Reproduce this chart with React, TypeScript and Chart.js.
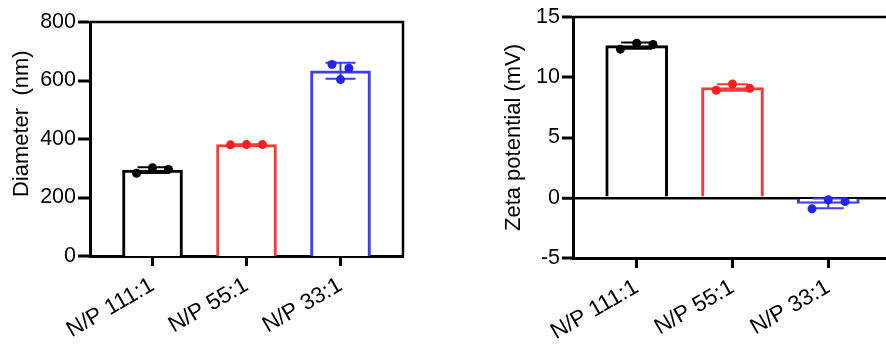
import React, { useEffect, useRef } from 'react';
import { Chart, registerables } from 'chart.js';

Chart.register(...registerables);

// ---------- data ----------
const categories = ['N/P 111:1', 'N/P 55:1', 'N/P 33:1'];

const diameterMeans = [293.7, 380.7, 633.3];
const diameterSD = [9.7, 1.0, 27.0];
const diameterDots = [
  [283, 302, 296],
  [380, 381, 381],
  [655, 642, 603],
];
const diameterJitter = [
  [-0.17, 0, 0.17],
  [-0.17, 0, 0.17],
  [-0.09, 0.09, 0],
];
const diameterTicks = [0, 200, 400, 600, 800];

const zetaMeans = [12.63, 9.15, -0.47];
const zetaSD = [0.26, 0.27, 0.4];
const zetaDots = [
  [12.33, 12.83, 12.72],
  [8.92, 9.44, 9.08],
  [-0.92, -0.17, -0.31],
];
const zetaJitter = [
  [-0.17, 0, 0.17],
  [-0.17, 0, 0.18],
  [-0.17, 0, 0.175],
];
const zetaTicks = [-5, 0, 5, 10, 15];

const barColors = ['#000000', '#f23c3c', '#3c3cf2'];
const dotColors = ['#000000', '#ff1f1f', '#2323f5'];

const FONT_FAMILY = "Arial, 'Liberation Sans', Helvetica, sans-serif";

type Spec = {
  means: number[];
  sds: number[];
  dots: number[][];
  jitter: number[][];
  ticks: number[];
  title: string;
  barThickness: number;
  capWidth: number;
  padding: { left: number; top: number; right: number; bottom: number };
  yWidth: number;
  xHeight: number;
  titlePad: number;
  zeroLine: boolean;
  yTickLength: number;
};

function makeConfig(s: Spec): any {
  const errorBars = {
    id: 'errorBars',
    afterDatasetDraw(chart: any, args: any) {
      if (args.meta.type !== 'bar') return;
      const { ctx } = chart;
      const x = chart.scales.x;
      const y = chart.scales.y;
      ctx.save();
      s.means.forEach((m, i) => {
        const px = x.getPixelForValue(i);
        const top = y.getPixelForValue(m + s.sds[i]);
        const bot = y.getPixelForValue(m - s.sds[i]);
        ctx.strokeStyle = barColors[i];
        ctx.lineWidth = 2;
        ctx.beginPath();
        ctx.moveTo(px, top);
        ctx.lineTo(px, bot);
        ctx.moveTo(px - s.capWidth / 2, top);
        ctx.lineTo(px + s.capWidth / 2, top);
        ctx.moveTo(px - s.capWidth / 2, bot);
        ctx.lineTo(px + s.capWidth / 2, bot);
        ctx.stroke();
      });
      ctx.restore();
    },
  };
  const frame = {
    id: 'frame',
    beforeDatasetsDraw(chart: any) {
      const { ctx, chartArea: a } = chart;
      ctx.save();
      ctx.strokeStyle = '#000';
      ctx.lineWidth = 2.5;
      ctx.beginPath();
      ctx.moveTo(a.left, a.top);
      ctx.lineTo(a.right, a.top);
      ctx.lineTo(a.right, a.bottom);
      ctx.stroke();
      ctx.restore();
    },
  };

  const dotData: any[] = [];
  const dotCols: string[] = [];
  s.dots.forEach((arr, i) =>
    arr.forEach((v, j) => {
      dotData.push({ x: i + s.jitter[i][j], y: v });
      dotCols.push(dotColors[i]);
    })
  );

  const tickFont = { family: FONT_FAMILY, size: 21.5 };

  return {
    type: 'bar',
    data: {
      datasets: [
        {
          type: 'scatter',
          order: 0,
          data: dotData,
          backgroundColor: dotCols,
          borderWidth: 0,
          pointRadius: 4.5,
          pointHoverRadius: 4.5,
        },
        {
          type: 'bar',
          order: 1,
          data: s.means.map((m, i) => ({ x: i, y: m })),
          backgroundColor: '#ffffff',
          borderColor: barColors,
          borderWidth: 3,
          barThickness: s.barThickness,
        },
      ],
    },
    options: {
      responsive: false,
      animation: false,
      events: [],
      layout: { padding: s.padding },
      plugins: { legend: { display: false }, tooltip: { enabled: false } },
      scales: {
        x: {
          type: 'linear',
          offset: false,
          min: -0.665,
          max: 2.665,
          afterBuildTicks: (sc: any) => {
            sc.ticks = categories.map((_, i) => ({ value: i }));
          },
          afterFit: (sc: any) => {
            sc.height = s.xHeight;
          },
          ticks: {
            callback: (v: any) => categories[v] ?? '',
            autoSkip: false,
            minRotation: 30,
            maxRotation: 30,
            font: { family: FONT_FAMILY, size: 22.5 },
            color: '#000',
            padding: 6,
          },
          grid: {
            offset: false,
            drawOnChartArea: false,
            drawTicks: true,
            tickLength: 10,
            tickWidth: 3,
            tickColor: '#000',
          },
          border: { display: true, color: '#000', width: 3 },
        },
        y: {
          type: 'linear',
          min: s.ticks[0],
          max: s.ticks[s.ticks.length - 1],
          afterBuildTicks: (sc: any) => {
            sc.ticks = s.ticks.map((v) => ({ value: v }));
          },
          afterFit: (sc: any) => {
            sc.width = s.yWidth;
          },
          ticks: { font: tickFont, color: '#000', padding: 2 },
          grid: {
            drawOnChartArea: s.zeroLine,
            color: (c: any) => (c.tick && c.tick.value === 0 ? '#000' : 'rgba(0,0,0,0)'),
            lineWidth: (c: any) => (s.zeroLine && c.tick && c.tick.value === 0 ? 2.5 : 0),
            drawTicks: true,
            tickLength: s.yTickLength,
            tickWidth: 3,
            tickColor: '#000',
          },
          border: { display: true, color: '#000', width: 3 },
          title: {
            display: true,
            text: s.title,
            color: '#000',
            font: { family: FONT_FAMILY, size: 22 },
            padding: { top: s.titlePad, bottom: 0 },
          },
        },
      },
    },
    plugins: [errorBars, frame],
  };
}

function BarChart({ spec, width, height, left }: { spec: Spec; width: number; height: number; left: number }) {
  const ref = useRef<HTMLCanvasElement>(null);
  useEffect(() => {
    const chart = new Chart(ref.current as HTMLCanvasElement, makeConfig(spec));
    return () => chart.destroy();
  }, []);
  return (
    <canvas
      ref={ref}
      width={width}
      height={height}
      style={{ position: 'absolute', left, top: 0, width, height, display: 'block' }}
    />
  );
}

const leftSpec: Spec = {
  means: diameterMeans,
  sds: diameterSD,
  dots: diameterDots,
  jitter: diameterJitter,
  ticks: diameterTicks,
  title: '     Diameter  (nm)',
  barThickness: 60,
  capWidth: 30,
  padding: { left: 0, top: 22, right: 67, bottom: 0 },
  yWidth: 90,
  xHeight: 91,
  titlePad: 8.8,
  zeroLine: false,
  yTickLength: 12,
};

const rightSpec: Spec = {
  means: zetaMeans,
  sds: zetaSD,
  dots: zetaDots,
  jitter: zetaJitter,
  ticks: zetaTicks,
  title: 'Zeta potential (mV)',
  barThickness: 62,
  capWidth: 31,
  padding: { left: 0, top: 17, right: 18, bottom: 0 },
  yWidth: 103,
  xHeight: 89,
  titlePad: 30.8,
  zeroLine: true,
  yTickLength: 11,
};

export default function App() {
  return (
    <div
      style={{
        position: 'fixed',
        left: 0,
        top: 0,
        width: 886,
        height: 347,
        overflow: 'hidden',
        background: '#ffffff',
      }}
    >
      <BarChart spec={leftSpec} width={470} height={347} left={0} />
      <BarChart spec={rightSpec} width={440} height={347} left={470} />
    </div>
  );
}
